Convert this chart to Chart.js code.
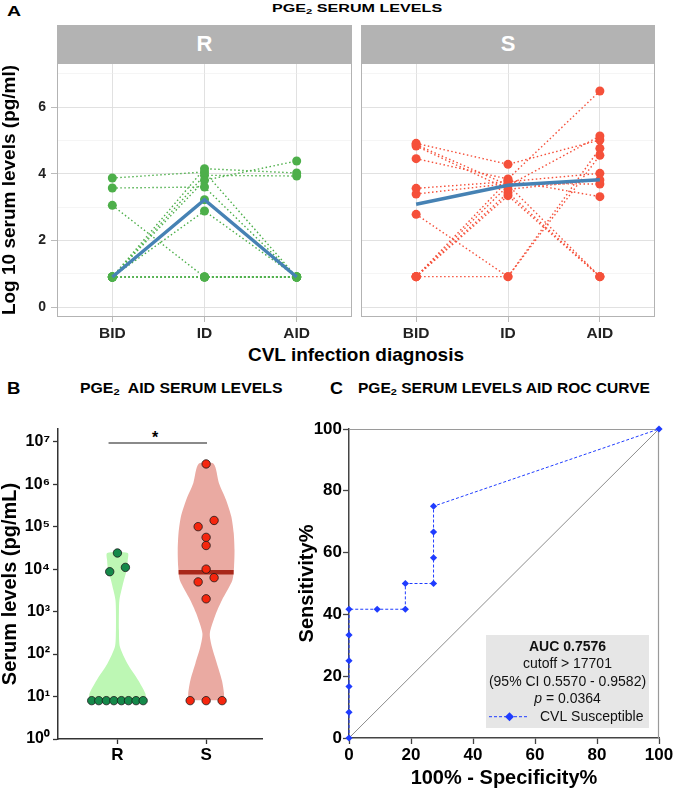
<!DOCTYPE html>
<html><head><meta charset="utf-8">
<script src="https://cdn.jsdelivr.net/npm/chart.js@4.4.1/dist/chart.umd.min.js"></script>
<style>
body{margin:0;background:#fff;}
#wrap{position:relative;width:673px;height:790px;overflow:hidden;font-family:"Liberation Sans",Arial,sans-serif;}
canvas{position:absolute;}
.t{position:absolute;white-space:nowrap;font-weight:bold;color:#000;transform-origin:0 0;}
.sub{font-size:0.7em;position:relative;top:0.3em;}
.strip{position:absolute;background:#b3b3b3;color:#fff;font-weight:bold;font-size:22px;text-align:center;}
</style></head><body><div id="wrap">
<div class="t" style="left:7px;top:3px;font-size:15px;line-height:15px;transform:scaleX(1.3)">A</div>
<div class="t" style="left:272px;top:1.8px;font-size:11.6px;line-height:11.6px;transform:scaleX(1.39)">PGE<span class="sub">2</span> SERUM LEVELS</div>
<div class="strip" style="left:57px;top:25px;width:295px;height:38px;line-height:38px;">R</div>
<div class="strip" style="left:361px;top:25px;width:294px;height:38px;line-height:38px;">S</div>
<div class="t" style="left:356px;top:344.5px;font-size:19px;line-height:19px;transform:translateX(-50%)">CVL infection diagnosis</div>
<div class="t" style="left:7.3px;top:380.2px;font-size:16.3px;line-height:16.3px;transform:scaleX(1.14)">B</div>
<div class="t" style="left:80px;top:380.5px;font-size:14px;line-height:14px;transform:scaleX(1.13)">PGE<span class="sub">2</span>&nbsp; AID SERUM LEVELS</div>
<div class="t" style="left:330px;top:380.2px;font-size:16.3px;line-height:16.3px;transform:scaleX(1.1)">C</div>
<div class="t" style="left:358px;top:380.5px;font-size:14px;line-height:14px;transform:scaleX(1.11)">PGE<span class="sub">2</span> SERUM LEVELS AID ROC CURVE</div>
<div class="t" style="left:152px;top:429.5px;font-size:16px;line-height:16px;">*</div>
</div>
<script>
// ---------- Panel A data (log10 pg/ml) ----------
const stages = ['BID', 'ID', 'AID'];
const rBID = [3.87, 3.57, 3.05, 0.9, 0.9, 0.9, 0.9, 0.9, 0.9, 0.9, 0.9];
const rID  = [4.05, 3.60, 0.9, 4.15, 3.80, 3.95, 3.22, 2.88, 0.9, 0.9, 0.9];
const rAID = [0.9, 0.9, 0.9, 4.02, 4.38, 3.93, 0.9, 0.9, 0.9, 0.9, 0.9];
const sBID = [4.91, 4.87, 4.83, 4.45, 3.56, 3.39, 2.78, 0.91, 0.91, 0.91, 0.91, 0.91];
const sID  = [4.28, 3.66, 3.53, 3.84, 3.76, 3.70, 0.91, 0.91, 3.80, 3.64, 3.43, 3.34];
const sAID = [5.01, 0.91, 3.81, 6.48, 4.01, 3.69, 4.55, 4.76, 3.31, 5.13, 0.91, 0.91];
const rMedian = [0.9, 3.22, 0.9];
const sMedian = [3.08, 3.65, 3.82];
const aYTicks = [0, 1, 2, 3, 4, 5, 6, 7];

// ---------- Panel B data (pg/mL) ----------
const groups = ['R', 'S'];
const rAIDpg = [24000, 11000, 8700, 8, 8, 8, 8, 8, 8, 8, 8];
const sAIDpg = [3000000, 140000, 100000, 56000, 36000, 10000, 6300, 5000, 2000, 8, 8, 8];
const rJitter = [0, 0.09, -0.087, -0.29, -0.21, -0.125, -0.04, 0.045, 0.125, 0.21, 0.29];
const sJitter = [0, 0.09, -0.09, 0, 0, 0, 0.09, -0.09, 0, -0.18, 0, 0.18];
const sMedianPg = 8500;
const rViolinLog  = [0.91, 1.07, 1.38, 1.78, 2.17, 2.56, 3.0, 3.27, 3.5, 3.74, 4.0, 4.2, 4.38];
const rViolinHalf = [0.32, 0.315, 0.236, 0.112, 0.028, 0.017, 0.017, 0.022, 0.045, 0.073, 0.107, 0.116, 0.116];
const sViolinLog  = [0.91, 1.07, 1.38, 1.78, 2.17, 2.49, 2.96, 3.27, 3.74, 4.06, 4.45, 4.85, 5.24, 5.63, 6.03, 6.48];
const sViolinHalf = [0.197, 0.202, 0.178, 0.121, 0.065, 0.042, 0.112, 0.178, 0.296, 0.315, 0.32, 0.311, 0.284, 0.225, 0.144, 0.084];
const bYTicks = [0, 1, 2, 3, 4, 5, 6, 7];
const supDigits = ['⁰', '¹', '²', '³', '⁴', '⁵', '⁶', '⁷'];
const sigLevel = 6.97;

// ---------- Panel C data ----------
const rocFPR = [0, 0, 0, 0, 0, 0, 9.09, 18.18, 18.18, 27.27, 27.27, 27.27, 27.27, 100];
const rocTPR = [0, 8.33, 16.67, 25, 33.33, 41.67, 41.67, 41.67, 50, 50, 58.33, 66.67, 75, 100];
const cTicks = [0, 20, 40, 60, 80, 100];
const legendLines = ['AUC 0.7576', 'cutoff > 17701', '(95% CI 0.5570 - 0.9582)'];
const pValue = '0.0364';
const seriesName = 'CVL Susceptible';

// ---------- helpers ----------
const FF = '"Liberation Sans", Arial, sans-serif';
function mk(left, top, w, h) {
  const c = document.createElement('canvas');
  c.width = w; c.height = h;
  c.style.left = left + 'px'; c.style.top = top + 'px';
  c.style.width = w + 'px'; c.style.height = h + 'px';
  document.getElementById('wrap').appendChild(c);
  return c.getContext('2d');
}
function fixW(w) { return s => { s.width = w; s.paddingTop = 0; s.paddingBottom = 0; s.paddingLeft = 0; s.paddingRight = 0; }; }
function fixH(h) { return s => { s.height = h; s.paddingTop = 0; s.paddingBottom = 0; s.paddingLeft = 0; s.paddingRight = 0; }; }
const base = {responsive: false, devicePixelRatio: 1, animation: false,
  plugins: {legend: {display: false}, tooltip: {enabled: false}}};
const frame = {id: 'frame', afterDraw(ch) {
  const a = ch.chartArea, c = ch.ctx;
  c.save(); c.strokeStyle = '#b3b3b3'; c.lineWidth = 1;
  c.strokeRect(Math.round(a.left) + 0.5, Math.round(a.top) + 0.5, Math.round(a.right - a.left) - 1, Math.round(a.bottom - a.top) - 1);
  c.restore();
}};

// ---------- Panel A ----------
function panelA(ctx, bid, id, aid, med, color, showY) {
  const ds = [];
  ds.push({data: med.map((v, i) => ({x: i + 1, y: v})), borderColor: '#4682b4', borderWidth: 3.5,
    pointRadius: 0, order: 0});
  for (let k = 0; k < bid.length; k++) {
    ds.push({data: [{x: 1, y: bid[k]}, {x: 2, y: id[k]}, {x: 3, y: aid[k]}],
      borderColor: color, borderWidth: 1.4, borderDash: [1.5, 2.5],
      pointRadius: 4.5, pointBackgroundColor: color, pointBorderWidth: 0, order: 2});
  }
  const ticksF = {family: FF, weight: 'bold', size: 14};
  return new Chart(ctx, {type: 'line', data: {datasets: ds},
    options: Object.assign({}, base, {
      layout: {autoPadding: false, padding: {top: 3, right: 1, left: 0, bottom: 0}},
      scales: {
        x: {type: 'linear', min: 0.4, max: 3.6,
          afterBuildTicks: s => { s.ticks = stages.map((_, i) => ({value: i + 1})); },
          afterFit: fixH(33),
          ticks: {callback: v => stages[v - 1], font: {family: FF, weight: 'bold', size: 15.5}, color: '#222', padding: 2, maxRotation: 0},
          grid: {color: '#dedede', lineWidth: 0.9, tickLength: 5, tickColor: '#b3b3b3'},
          border: {display: false}},
        y: {type: 'linear', min: -0.3, max: 7.32,
          afterBuildTicks: s => { s.ticks = aYTicks.map(v => ({value: v})); },
          afterFit: fixW(showY ? 57 : 0),
          ticks: {display: showY, callback: v => (v % 2 === 0 ? String(v) : ''), font: ticksF, color: '#222', padding: 5},
          grid: {color: c => (c.tick && c.tick.value % 2 === 0 ? '#dedede' : '#eeeeee'),
            lineWidth: c => (c.tick && c.tick.value % 2 === 0 ? 0.9 : 0.6),
            drawTicks: showY, tickLength: 6,
            tickColor: c => (c.tick && c.tick.value % 2 === 0 ? '#b3b3b3' : 'rgba(0,0,0,0)')},
          border: {display: false},
          title: {display: showY, text: 'Log 10 serum levels (pg/ml)', font: {family: FF, weight: 'bold', size: 19, lineHeight: 1},
            color: '#000', padding: {top: 0, bottom: 0}}}
      }}), plugins: [frame]});
}
panelA(mk(0, 60, 353, 290), rBID, rID, rAID, rMedian, '#4daf4a', true);
panelA(mk(361, 60, 295, 290), sBID, sID, sAID, sMedian, '#f5503a', false);

// ---------- Panel B ----------
function violin(center, logs, halves) {
  const pts = [];
  for (let i = 0; i < logs.length; i++) pts.push({x: center - halves[i], y: Math.pow(10, logs[i])});
  for (let i = logs.length - 1; i >= 0; i--) pts.push({x: center + halves[i], y: Math.pow(10, logs[i])});
  return pts;
}
const bDs = [
  {data: rAIDpg.map((v, i) => ({x: 1 + rJitter[i], y: v})), showLine: false, pointRadius: 4.2,
    pointBackgroundColor: '#15894a', pointBorderColor: '#1a1a1a', pointBorderWidth: 0.8, order: 0},
  {data: sAIDpg.map((v, i) => ({x: 2 + sJitter[i], y: v})), showLine: false, pointRadius: 4.2,
    pointBackgroundColor: '#f5260e', pointBorderColor: '#1a1a1a', pointBorderWidth: 0.8, order: 0},
  {data: [{x: 2 - 0.31, y: sMedianPg}, {x: 2 + 0.31, y: sMedianPg}], borderColor: '#a8281a', borderWidth: 4.5,
    pointRadius: 0, order: 1},
  {data: [{x: 1 - 0.1, y: Math.pow(10, sigLevel)}, {x: 2 + 0.01, y: Math.pow(10, sigLevel)}], borderColor: '#8a8a8a', borderWidth: 2,
    pointRadius: 0, order: 1},
  {data: violin(1, rViolinLog, rViolinHalf), borderWidth: 0, pointRadius: 0, tension: 0.25,
    fill: 'shape', backgroundColor: '#bdf7b4', order: 5},
  {data: violin(2, sViolinLog, sViolinHalf), borderWidth: 0, pointRadius: 0, tension: 0.25,
    fill: 'shape', backgroundColor: '#eaaaa2', order: 5}
];
new Chart(mk(0, 400, 265, 390), {type: 'line', data: {datasets: bDs},
  options: Object.assign({}, base, {
    layout: {autoPadding: false, padding: {top: 29, right: 3, left: 0, bottom: 0}},
    scales: {
      x: {type: 'linear', min: 0.33, max: 2.63,
        afterBuildTicks: s => { s.ticks = groups.map((_, i) => ({value: i + 1})); },
        afterFit: fixH(51),
        ticks: {callback: v => groups[v - 1], font: {family: FF, weight: 'bold', size: 17}, color: '#000', padding: 1, maxRotation: 0},
        grid: {drawOnChartArea: false, tickLength: 5, tickColor: '#333', tickWidth: 1.3},
        border: {color: '#333', width: 1.5}},
      y: {type: 'logarithmic', min: 1, max: Math.pow(10, 7.3),
        afterBuildTicks: s => { s.ticks = bYTicks.map(e => ({value: Math.pow(10, e)})); },
        afterFit: fixW(58),
        ticks: {callback: v => '10' + supDigits[Math.round(Math.log10(v))], font: {family: FF, weight: 'bold', size: 16}, color: '#000', padding: 3},
        grid: {drawOnChartArea: false, tickLength: 5, tickColor: '#333', tickWidth: 1.3},
        border: {color: '#333', width: 1.5},
        title: {display: true, text: 'Serum levels (pg/mL)', font: {family: FF, weight: 'bold', size: 20, lineHeight: 1},
          color: '#000', padding: {top: 0, bottom: 0}}}
    }})});

// ---------- Panel C ----------
const blue = '#1f3cff';
const cFrame = {id: 'cframe', beforeDatasetsDraw(ch) {
  const a = ch.chartArea, c = ch.ctx;
  c.save(); c.strokeStyle = '#9a9a9a'; c.lineWidth = 1.2;
  c.beginPath(); c.moveTo(a.left, a.top + 0.5); c.lineTo(a.right - 0.5, a.top + 0.5); c.lineTo(a.right - 0.5, a.bottom); c.stroke();
  c.restore();
}};
const cLegend = {id: 'clegend', afterDraw(ch) {
  const a = ch.chartArea, c = ch.ctx;
  const w = 163, h = 93, bx = a.right - 10 - w, by = a.bottom - 10 - h, cx = bx + w / 2;
  c.save();
  c.fillStyle = '#e6e6e6'; c.fillRect(bx, by, w, h);
  c.fillStyle = '#111'; c.textAlign = 'center'; c.textBaseline = 'middle';
  const ys = [11.7, 29, 46.7, 64, 81.7];
  legendLines.forEach((t, i) => {
    c.font = (i === 0 ? 'bold ' : '') + '14px ' + FF;
    c.fillText(t, cx, by + ys[i]);
  });
  c.font = 'italic 14px ' + FF; const wp = c.measureText('p').width;
  c.font = '14px ' + FF; const rest = ' = ' + pValue; const wr = c.measureText(rest).width;
  const sx = cx - (wp + wr) / 2;
  c.textAlign = 'left';
  c.font = 'italic 14px ' + FF; c.fillText('p', sx, by + ys[3]);
  c.font = '14px ' + FF; c.fillText(rest, sx + wp, by + ys[3]);
  const ly = by + ys[4];
  c.strokeStyle = blue; c.lineWidth = 1; c.setLineDash([3, 2]);
  c.beginPath(); c.moveTo(bx + 3, ly); c.lineTo(bx + 43, ly); c.stroke(); c.setLineDash([]);
  c.fillStyle = blue; c.beginPath();
  const dx = bx + 23.5, r = 4.5;
  c.moveTo(dx, ly - r); c.lineTo(dx + r, ly); c.lineTo(dx, ly + r); c.lineTo(dx - r, ly); c.closePath(); c.fill();
  c.fillStyle = '#111'; c.fillText(seriesName, bx + 54, ly);
  c.restore();
}};
new Chart(mk(262, 400, 411, 390), {type: 'line', data: {datasets: [
    {data: rocFPR.map((v, i) => ({x: v, y: rocTPR[i]})), borderColor: blue, borderWidth: 1, borderDash: [3, 2],
      pointStyle: 'rectRot', pointRadius: 3.6, pointBackgroundColor: blue, pointBorderWidth: 0, order: 0, clip: false},
    {data: [{x: cTicks[0], y: cTicks[0]}, {x: cTicks[cTicks.length - 1], y: cTicks[cTicks.length - 1]}],
      borderColor: '#8c8c8c', borderWidth: 1, pointRadius: 0, order: 1}
  ]},
  options: Object.assign({}, base, {
    layout: {autoPadding: false, padding: {top: 29, right: 14, left: 0, bottom: 0}},
    scales: {
      x: {type: 'linear', min: 0, max: 100,
        afterBuildTicks: s => { s.ticks = cTicks.map(v => ({value: v})); },
        afterFit: fixH(52),
        ticks: {font: {family: FF, weight: 'bold', size: 17}, color: '#000', padding: 1, maxRotation: 0},
        grid: {drawOnChartArea: false, tickLength: 6, tickColor: '#444', tickWidth: 1.3},
        border: {color: '#444', width: 1.5},
        title: {display: true, text: '100% - Specificity%', font: {family: FF, weight: 'bold', size: 20, lineHeight: 1},
          color: '#000', padding: {top: 0, bottom: 2}}},
      y: {type: 'linear', min: 0, max: 100,
        afterBuildTicks: s => { s.ticks = cTicks.map(v => ({value: v})); },
        afterFit: fixW(87),
        ticks: {font: {family: FF, weight: 'bold', size: 17}, color: '#000', padding: 1},
        grid: {drawOnChartArea: false, tickLength: 6, tickColor: '#444', tickWidth: 1.3},
        border: {color: '#444', width: 1.5},
        title: {display: true, text: 'Sensitivity%', font: {family: FF, weight: 'bold', size: 20, lineHeight: 1},
          color: '#000', padding: {top: 35, bottom: 0}}}
    }}), plugins: [cFrame, cLegend]});
</script>
</body></html>
